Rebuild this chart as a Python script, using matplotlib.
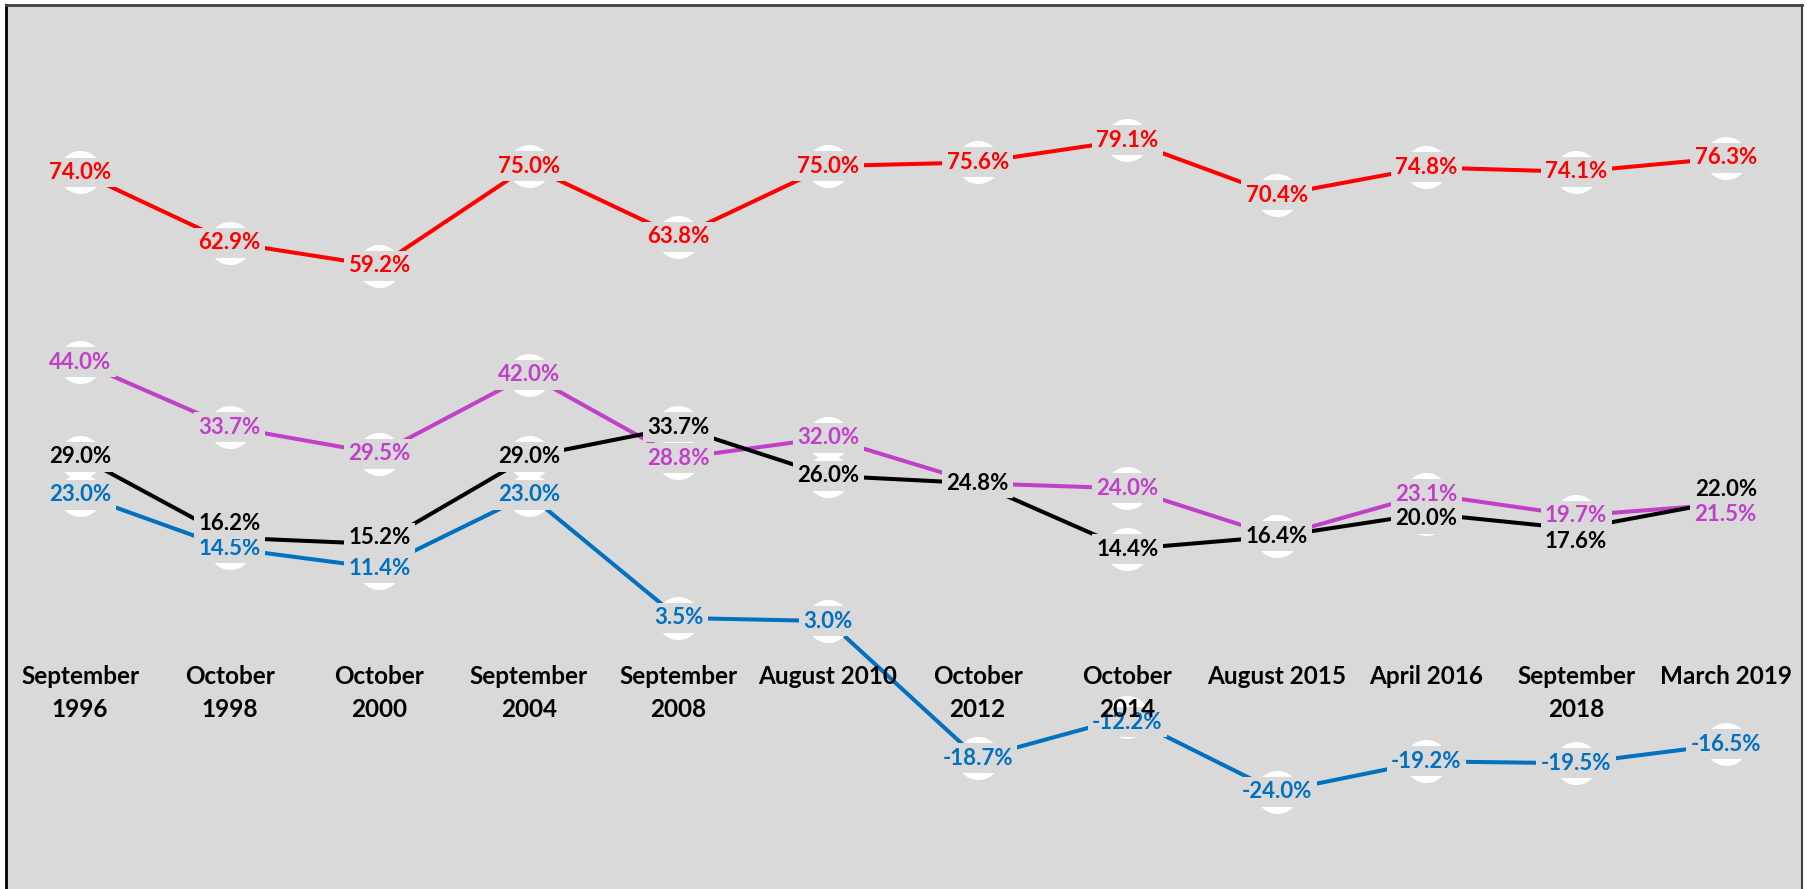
import matplotlib
matplotlib.use("Agg")
import matplotlib.pyplot as plt

plt.rcParams['font.family'] = ['Lato', 'DejaVu Sans']

categories = ["September\n1996", "October\n1998", "October\n2000", "September\n2004",
              "September\n2008", "August 2010", "October\n2012", "October\n2014",
              "August 2015", "April 2016", "September\n2018", "March 2019"]

red_vals = [74.0, 62.9, 59.2, 75.0, 63.8, 75.0, 75.6, 79.1, 70.4, 74.8, 74.1, 76.3]
purple_vals = [44.0, 33.7, 29.5, 42.0, 28.8, 32.0, 24.8, 24.0, 16.4, 23.1, 19.7, 21.5]
black_vals = [29.0, 16.2, 15.2, 29.0, 33.7, 26.0, 24.8, 14.4, 16.4, 20.0, 17.6, 22.0]
blue_vals = [23.0, 14.5, 11.4, 23.0, 3.5, 3.0, -18.7, -12.2, -24.0, -19.2, -19.5, -16.5]

series = [
    ("red", red_vals, "#FF0000", 3),
    ("purple", purple_vals, "#C040C8", 4),
    ("blue", blue_vals, "#0070C0", 5),
    ("black", black_vals, "#000000", 6),
]

# label vertical offsets (pixels) to avoid overlaps
label_offsets = {
    ("black", 1): 14, ("black", 2): 6, ("black", 9): -5, ("black", 10): -13,
    ("black", 11): 12, ("purple", 11): -10, ("blue", 7): -5,
}
hidden_labels = {("purple", 6), ("purple", 8)}
no_marker = {("purple", 6), ("black", 6)}

BG = "#D9D9D9"
fig = plt.figure(figsize=(18.08, 8.89), dpi=100)
ax = fig.add_axes([6 / 1808, 0, 1796 / 1808, 884 / 889])
ax.set_facecolor(BG)

x = list(range(len(categories)))
for name, vals, color, z in series:
    ax.plot(x, vals, color=color, lw=2.9, zorder=z, solid_capstyle='butt')
    mk = [i for i in x if (name, i) not in no_marker]
    ax.plot(x, vals, linestyle='none', marker='o', markersize=31, markevery=mk,
            markerfacecolor='white', markeredgecolor='none', zorder=z + 10)

for name, vals, color, z in series:
    for i, v in enumerate(vals):
        if (name, i) in hidden_labels:
            continue
        off = label_offsets.get((name, i), 0) * 0.72
        ax.annotate(f"{v:.1f}%", (i, v), xytext=(0, off), textcoords='offset points',
                    ha='center', va='center', fontsize=16, fontweight='bold', color=color,
                    zorder=z + 20,
                    bbox=dict(boxstyle='square,pad=0.2', fc=BG, ec='none'))

ax.set_xlim(-0.495, 11.51)
ax.set_ylim(-39.4, 100.5)
ax.spines['bottom'].set_position(('data', 0))
ax.spines['bottom'].set_visible(False)
ax.set_xticks(x)
ax.set_xticklabels(categories, fontsize=17.5, fontweight='bold', linespacing=1.55)
ax.tick_params(axis='x', length=0, pad=18)
ax.xaxis.set_zorder(100)
ax.set_yticks([])
ax.spines['left'].set_linewidth(2)
ax.spines['left'].set_color('black')
ax.spines['top'].set_linewidth(2)
ax.spines['top'].set_color('#404040')
ax.spines['right'].set_linewidth(1.5)
ax.spines['right'].set_color('#404040')

fig.savefig("out.png", dpi=100, facecolor='white')
